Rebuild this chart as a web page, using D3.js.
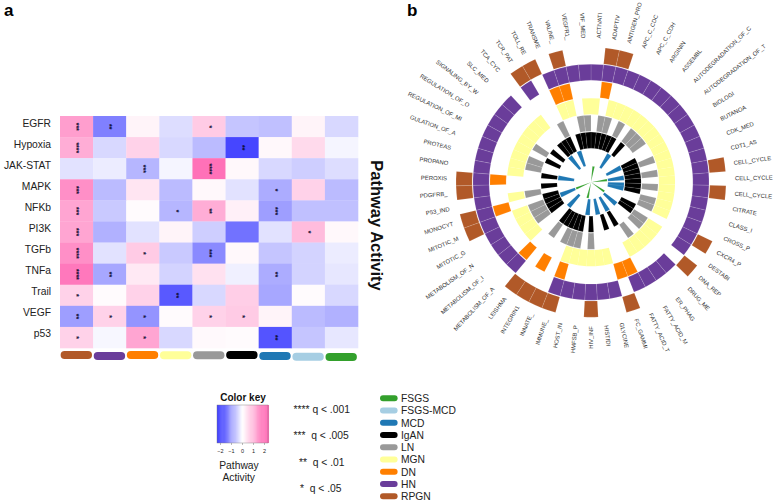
<!DOCTYPE html>
<html><head><meta charset="utf-8">
<script src="https://cdn.jsdelivr.net/npm/d3@7"></script>
<style>html,body{margin:0;padding:0;background:#fff}svg{display:block}text{font-family:"Liberation Sans",Arial,sans-serif}</style>
</head><body><svg id="c" width="774" height="502"></svg>
<script>
const groups = ["RPGN","HN","DN","MGN","LN","IgAN","MCD","FSGS-MCD","FSGS"];
const groupColors = ["#b15928","#6a3d9a","#ff7f00","#ffff99","#999999","#000000","#1f78b4","#a6cee3","#33a02c"];
const pathways = ["EGFR","Hypoxia","JAK-STAT","MAPK","NFKb","PI3K","TGFb","TNFa","Trail","VEGF","p53"];
const EGFR     = [1.3,-1.3,.15,-.35,.7,-.6,-.65,.15,-.4];
const Hypoxia  = [1.1,-.4,.6,-.4,-.7,-1.9,.1,.5,-.1];
const JAKSTAT  = [-.3,-.2,-.75,-.1,1.9,.1,-.4,-.5,-.35];
const MAPK     = [1.5,-.7,.35,-.7,.1,-.3,-.85,.6,-.7];
const NFKb     = [1.2,-.55,.05,-.75,1.1,.2,-1.0,-.65,-.65];
const PI3K     = [1.2,-.8,-.3,.15,-.5,-1.45,-.3,.9,.1];
const TGFb     = [1.5,-.3,.7,-.55,-1.2,.1,-.6,-.45,-.2];
const TNFa     = [1.8,-.9,.3,-.45,.4,-.15,-.85,-.45,-.25];
const Trail    = [.6,.06,.6,-1.7,-.4,.65,-.9,.05,-.4];
const VEGF     = [-1,.6,-1.1,.05,.6,.7,.15,-.7,-.8];
const p53      = [.6,-.08,1.2,-.4,.08,.05,-1.75,-.6,-.25];
const activity = [EGFR,Hypoxia,JAKSTAT,MAPK,NFKb,PI3K,TGFb,TNFa,Trail,VEGF,p53];
const stars = [
 [3,2,0,0,1,0,0,0,0],[4,0,0,0,0,2,0,0,0],[0,0,3,0,4,0,0,0,0],[3,0,0,0,0,0,1,0,0],
 [3,0,0,1,2,0,3,0,0],[3,0,0,0,0,0,0,1,0],[4,0,1,0,3,0,0,0,0],[4,2,0,0,0,0,2,0,0],
 [1,0,0,2,0,0,0,0,0],[2,1,1,0,1,1,0,0,0],[1,0,1,0,0,0,2,0,0]];
const sectors = ["ACTIVATI","ADAPTIV","ANTIGEN_PRO","APC_C_CDC","APC_C_CDH","ARGININ","ASSEMBL","AUTODEGRADATION_OF_C","AUTODEGRADATION_OF_T","BIOLOGI","BUTANOA","CDK_MED","CDT1_AS","CELL_CYCLE","CELL_CYCLE","CELL_CYCLE","CITRATE","CLASS_I","CROSS_P","CXCR4_P","DESTABI","DNA_REP","DRUG_ME","ER_PHAG","FATTY_ACID_M","FATTY_ACID_T","FC_GAMMI","GLYCINE","HISTIDI","HIV_INF","HMFSB_P","HOST_IN","IMMUNE_","INNATE_","INTEGRIN1","LEISHMA","METABOLISM_OF_A","METABOLISM_OF_I","METABOLISM_OF_N","MITOTIC_G","MITOTIC_M","MONOCYT","P53_IND","PDGFRB_","PEROXIS","PROPANO","PROTEAS","GULATION_OF_A","REGULATION_OF_MI","REGULATION_OF_O","SIGNALING_BY_W","SLC_MED","TCA_CYC","TCR_PAT","TOLL_RE","TRANSME","VALINE_","VEGFR1_","VIF_MED"];
const ringRPGN = [1,2,13,15,19,21,26,29,32,33,34,35,40,41,43,44,53,54,56];
const ringHN = [0,1,2,3,4,5,6,7,8,9,10,11,12,13,14,15,16,17,18,19,20,22,23,24,25,27,28,29,30,31,32,36,37,38,39,40,41,42,43,44,45,46,47,48,49,50,51,53,55,56,57,58];
const ringDN = [1,25,26,32,34,36,41,44,55,56];
const ringMGN = [0,2,3,4,5,6,7,8,9,10,11,12,13,14,15,16,17,18,20,21,22,23,24,27,28,29,30,31,32,37,38,39,40,42,45,46,47,48,49,50,51,52,55,56,58];
const ringLN = [1,2,4,6,7,8,11,13,15,17,18,20,21,23,29,31,32,33,35,38,39,40,42,46,47,49,54,57,58];
const ringIgAN = [0,1,2,3,4,6,10,11,12,13,14,15,16,19,20,24,26,29,31,32,33,34,35,38,39,40,41,43,45,48,50,52,53,54,56,57,58];
const ringMCD = [5,10,13,15,16,21,24,27,30,36,40,45,52,55];
const ringFSGS = [1,13,20,31,40];
const ringGroups = ["RPGN","HN","DN","MGN","LN","IgAN","MCD","FSGS"];
const ringHits = [ringRPGN,ringHN,ringDN,ringMGN,ringLN,ringIgAN,ringMCD,ringFSGS];
const keyTicks = [-2,-1,0,1,2];
const qLegend = ["**** q < .001","***  q < .005","**  q < .01","*  q < .05"];
const legendOrder = ["FSGS","FSGS-MCD","MCD","IgAN","LN","MGN","DN","HN","RPGN"];

const svg = d3.select("#c");
const groupColor = d3.scaleOrdinal(groups, groupColors);
const heat = d3.scaleLinear([-2,0,2],["#3c3cff","#ffffff","#ff69b4"]);
const tc = "#222";

// panel letters
svg.append("text").attr("x",4).attr("y",16).attr("font-size",17).attr("font-weight","bold").text("a");
svg.append("text").attr("x",407).attr("y",16).attr("font-size",17).attr("font-weight","bold").text("b");

// heatmap
const x = d3.scaleBand(groups,[60,358]);
const y = d3.scaleBand(pathways,[116,348]);
const cells = pathways.flatMap((p,i)=>groups.map((g,j)=>({p,g,v:activity[i][j],s:stars[i][j]})));
const h = svg.append("g");
h.selectAll("rect").data(cells).join("rect")
 .attr("x",d=>x(d.g)).attr("y",d=>y(d.p)).attr("width",x.bandwidth()+.3).attr("height",y.bandwidth()+.3)
 .attr("fill",d=>heat(d.v));
h.selectAll("text.star").data(cells.filter(d=>d.s)).join("text").attr("class","star")
 .attr("transform",d=>`translate(${x(d.g)+x.bandwidth()/2-2.2},${y(d.p)+y.bandwidth()/2+.2}) rotate(90)`)
 .attr("text-anchor","middle").attr("font-size",7).attr("fill","#0a0a30").attr("stroke","#0a0a30").attr("stroke-width",.25).text(d=>"*".repeat(d.s));
svg.append("g").selectAll("text").data(pathways).join("text")
 .attr("x",51).attr("y",d=>y(d)+y.bandwidth()/2).attr("text-anchor","end").attr("font-size",10.3).attr("fill",tc).text(d=>d);
const nudge = [0,1,0,.3,.3,0,1,1.7,2];
svg.append("g").selectAll("rect").data(groups).join("rect")
 .attr("x",d=>x(d)+.6).attr("y",(d,i)=>351+nudge[i]).attr("width",x.bandwidth()-1.7).attr("height",8).attr("rx",4)
 .attr("fill",d=>groupColor(d));
svg.append("text").attr("transform","translate(371,225.5) rotate(90)").attr("text-anchor","middle")
 .attr("font-size",16.5).attr("font-weight","bold").attr("fill","#111").text("Pathway Activity");

// circular plot
const cx=591, cy=182.2;
const ang = d3.scaleBand(d3.range(sectors.length),[0,2*Math.PI]);
const rad = d3.scaleBand(ringGroups,[135,0]).paddingInner(.05);
const arc = d3.arc();
const widen = {MCD:1.35,FSGS:1.3};
const c = svg.append("g").attr("transform",`translate(${cx},${cy})`);
ringGroups.forEach((g,k)=>{
  const w = ang.bandwidth()*(widen[g]||1), pad=(w-ang.bandwidth())/2;
  c.append("g").selectAll("path").data(ringHits[k]).join("path")
   .attr("d",i=>arc({innerRadius:rad(g),outerRadius:rad(g)+rad.bandwidth(),startAngle:ang(i)-pad,endAngle:ang(i)-pad+w}))
   .attr("fill",groupColor(g)).attr("stroke",g==="MGN"?"none":"#fff").attr("stroke-opacity",g==="IgAN"?.25:.3).attr("stroke-width",.4);
});
const labelR=144;
c.append("g").selectAll("text").data(sectors).join("text")
 .attr("font-size",5.9).attr("fill","#333").attr("dominant-baseline","central")
 .attr("transform",(d,i)=>{const a=(ang(i)+ang.bandwidth()/2)*180/Math.PI;
    return a<180?`rotate(${a-90}) translate(${labelR},0)`:`rotate(${a+90}) translate(${-labelR},0)`;})
 .attr("text-anchor",(d,i)=>(ang(i)+ang.bandwidth()/2)<Math.PI?"start":"end").text(d=>d);

// colour key
svg.append("text").attr("x",243).attr("y",401).attr("text-anchor","middle").attr("font-size",10).attr("font-weight","bold").attr("fill","#111").text("Color key");
const kx = d3.scaleLinear([-2,2],[220,264]);
const kv = d3.range(-2.27,2.36,.1);
const ksc = d3.scaleLinear([-2.1,0,2.1],["#3c3cff","#ffffff","#ff69b4"]).clamp(true);
svg.append("g").selectAll("rect").data(kv).join("rect")
 .attr("x",d=>kx(d)).attr("y",405).attr("width",kx(.1)-kx(0)+.3).attr("height",38).attr("fill",d=>ksc(d));
svg.append("rect").attr("x",217).attr("y",405).attr("width",51).attr("height",38).attr("fill","none").attr("stroke","#777").attr("stroke-width",.4);
const kg = svg.append("g").attr("transform","translate(0,443)").call(d3.axisBottom(kx).tickValues(keyTicks).tickSize(2).tickFormat(d3.format("d")));
kg.select(".domain").remove();
kg.selectAll("line").attr("stroke","#555").attr("stroke-width",.4);
kg.selectAll("text").attr("font-size",5.5).attr("fill",tc).attr("y",6);
svg.append("text").attr("x",239).attr("y",469).attr("text-anchor","middle").attr("font-size",10.3).attr("fill",tc).text("Pathway");
svg.append("text").attr("x",238.7).attr("y",481).attr("text-anchor","middle").attr("font-size",10.3).attr("fill",tc).text("Activity");

// q legend
svg.append("g").selectAll("text").data(qLegend).join("text")
 .attr("x",(d,i)=>[293.5,293.5,299,300][i]).attr("y",(d,i)=>[413,439,466,492][i]).attr("xml:space","preserve").style("white-space","pre")
 .attr("font-size",10.3).attr("fill",tc).text(d=>d);

// group legend
const ly = d3.scalePoint(legendOrder,[398.3,496.3]);
const l = svg.append("g");
l.selectAll("rect").data(legendOrder).join("rect").attr("x",380).attr("y",d=>ly(d)-3).attr("width",17.6).attr("height",6).attr("rx",3).attr("fill",d=>groupColor(d));
l.selectAll("text").data(legendOrder).join("text").attr("x",401).attr("y",d=>ly(d)+3.7).attr("font-size",10.3).attr("fill",tc).text(d=>d);
</script></body></html>
